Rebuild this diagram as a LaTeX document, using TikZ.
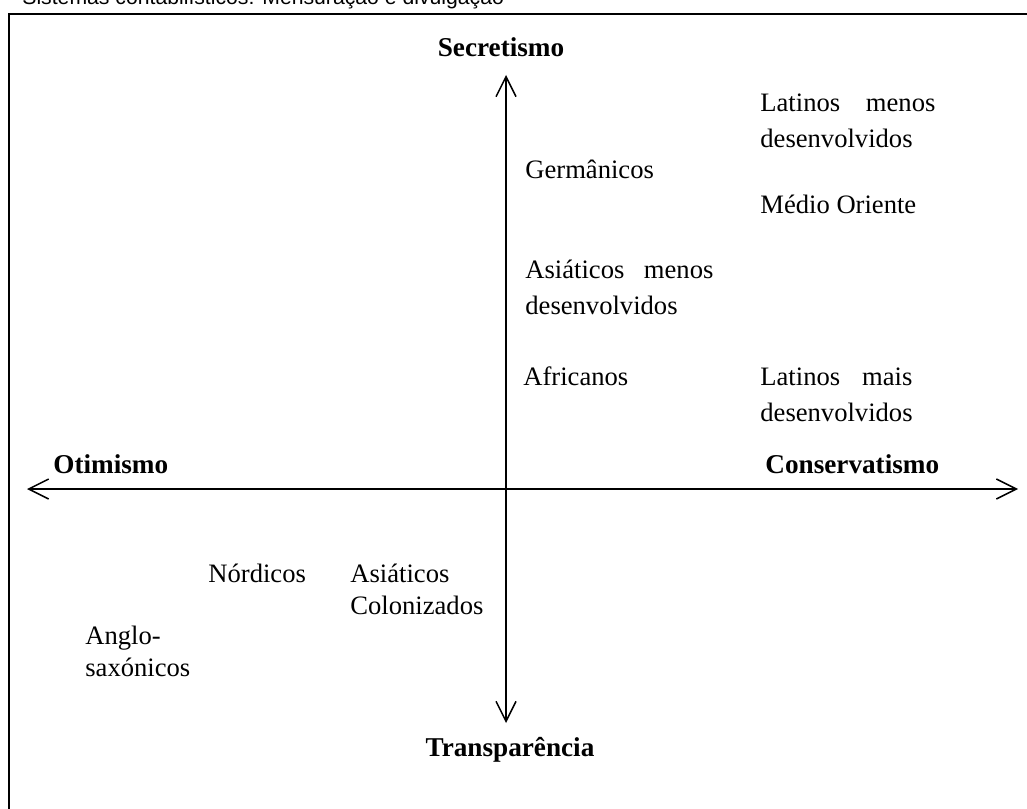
\documentclass[tikz,border=0pt]{standalone}
\usepackage{fontspec}
\setmainfont{Liberation Serif}
\newfontfamily\headfont{Liberation Sans}
\usetikzlibrary{arrows.meta}

\begin{document}
\begin{tikzpicture}[x=0.5pt, y=-0.5pt,
    lbl/.style={anchor=base west, inner sep=0pt, font=\fontsize{13.3}{18}\selectfont},
    twolines/.style={lbl, text width=#1, align=left},
    stacked/.style={lbl, align=left, font=\fontsize{13.3}{16}\selectfont},
    axislbl/.style={anchor=base, inner sep=0pt, font=\fontsize{13.6}{18}\selectfont\bfseries},
    axis/.style={line width=0.75pt, {Straight Barb[length=10pt, width=10pt]}-{Straight Barb[length=10pt, width=10pt]}}]
                \useasboundingbox (0,0) rectangle (1027,808);
                % header and frame (cut off by the page)
                \node[anchor=base west, inner sep=0pt, font=\headfont\fontsize{10.6}{12}\selectfont] (head) at (22,5) {Sistemas contabilísticos: Mensuração e divulgação};
                \draw[line width=1.2pt] (1040,820) -- (9,820) -- (9,14) -- (1040,14);
                % axes
                \coordinate (otim) at (27,489);
                \coordinate (cons) at (1018,489);
                \coordinate (secr) at (506,75);
                \coordinate (transp) at (506,723);
                \draw[axis] (otim) -- (cons);
                \draw[axis] (transp) -- (secr);
                % axis labels
                \node[axislbl] (secretismo) at (501,57) {Secretismo};
                \node[axislbl] (transparencia) at (510,756) {Transparência};
                \node[axislbl, anchor=base west] (otimismo) at (53,473) {Otimismo};
                \node[axislbl, anchor=base west] (conservatismo) at (765,473) {Conservatismo};
                % groups
                \node[twolines=87.5pt] (latmenos) at (760,112) {Latinos\hfill menos\\desenvolvidos};
                \node[lbl] (medio) at (760,213) {Médio Oriente};
                \node[lbl] (germ) at (525,178) {Germânicos};
                \node[twolines=94pt] (asimenos) at (525,278) {Asiáticos\hfill menos\\desenvolvidos};
                \node[lbl] (afric) at (523,385) {Africanos};
                \node[twolines=76pt] (latmais) at (760,385) {Latinos\hfill mais\\desenvolvidos};
                \node[lbl] (nord) at (208,582) {Nórdicos};
                \node[stacked] (asicol) at (350,614) {Asiáticos\\Colonizados};
                \node[stacked] (anglo) at (85,676) {Anglo-\\saxónicos};
            \end{tikzpicture}
\end{document}
